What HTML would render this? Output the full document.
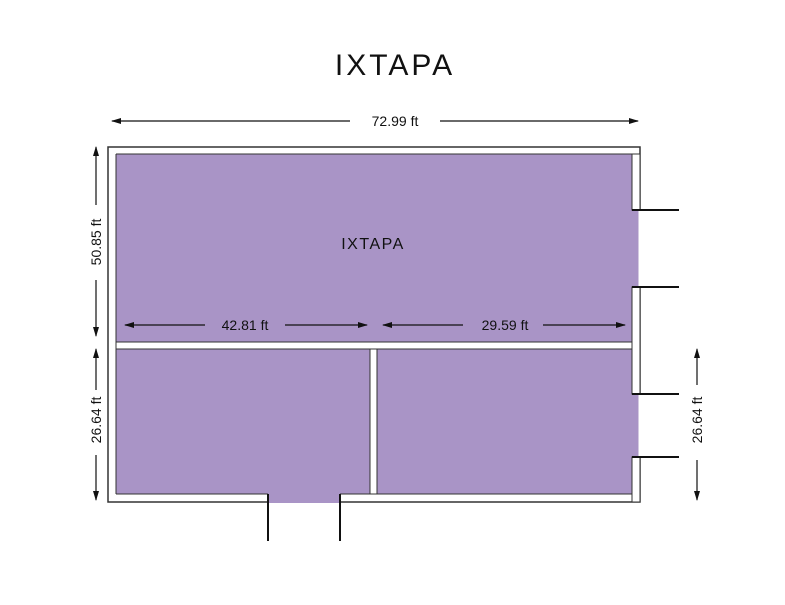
<!DOCTYPE html>
<html><head><style>body{margin:0;background:#fff}svg{display:block}</style></head><body>
<svg width="785" height="605" viewBox="0 0 785 605" xmlns="http://www.w3.org/2000/svg" font-family="Liberation Sans, sans-serif">
<defs><marker id="a" markerWidth="10" markerHeight="8" refX="9" refY="4" orient="auto" markerUnits="userSpaceOnUse"><path d="M0,1 L10,4 L0,7 z" fill="#111"/></marker></defs>
<text x="395" y="75" font-size="30" text-anchor="middle" letter-spacing="3" fill="#111">IXTAPA</text>
<!-- walls outer -->
<rect x="108" y="147" width="532" height="355" fill="#fff" stroke="#333" stroke-width="1.5"/>
<rect x="116" y="154" width="524" height="340" fill="#a994c6"/>
<rect x="632" y="154" width="8" height="56" fill="#fff" stroke="#333" stroke-width="1"/>
<rect x="632" y="287" width="8" height="107" fill="#fff" stroke="#333" stroke-width="1"/>
<rect x="632" y="457" width="8" height="45" fill="#fff" stroke="#333" stroke-width="1"/>
<rect x="268" y="494" width="72" height="9" fill="#a994c6"/>
<line x1="640" y1="210" x2="640" y2="287" stroke="#fff" stroke-width="3"/>
<line x1="640" y1="394" x2="640" y2="457" stroke="#fff" stroke-width="3"/>
<line x1="116" y1="154" x2="632" y2="154" stroke="#333" stroke-width="1"/>
<line x1="116" y1="154" x2="116" y2="494" stroke="#333" stroke-width="1"/>
<line x1="116" y1="494" x2="268" y2="494" stroke="#333" stroke-width="1"/>
<line x1="340" y1="494" x2="632" y2="494" stroke="#333" stroke-width="1"/>
<!-- interior walls -->
<rect x="116" y="342" width="516" height="7" fill="#fff" stroke="#333" stroke-width="1"/>
<rect x="370" y="349" width="7" height="145" fill="#fff" stroke="#333" stroke-width="1"/>
<!-- doors -->
<g stroke="#111" stroke-width="2">
<line x1="632" y1="210" x2="679" y2="210"/><line x1="632" y1="287" x2="679" y2="287"/>
<line x1="632" y1="394" x2="679" y2="394"/><line x1="632" y1="457" x2="679" y2="457"/>
<line x1="268" y1="494" x2="268" y2="541"/><line x1="340" y1="494" x2="340" y2="541"/>
</g>
<!-- dims -->
<g stroke="#111" stroke-width="1.2" marker-end="url(#a)">
<line x1="350" y1="121" x2="112" y2="121"/><line x1="440" y1="121" x2="638" y2="121"/>
<line x1="96" y1="205" x2="96" y2="147"/><line x1="96" y1="280" x2="96" y2="336"/>
<line x1="96" y1="390" x2="96" y2="349"/><line x1="96" y1="455" x2="96" y2="500"/>
<line x1="697" y1="385" x2="697" y2="349"/><line x1="697" y1="460" x2="697" y2="500"/>
<line x1="205" y1="325" x2="125" y2="325"/><line x1="285" y1="325" x2="367" y2="325"/>
<line x1="463" y1="325" x2="383" y2="325"/><line x1="543" y1="325" x2="625" y2="325"/>
</g>
<g font-size="14" fill="#111" text-anchor="middle">
<text x="395" y="126">72.99 ft</text>
<text x="245" y="330">42.81 ft</text>
<text x="505" y="330">29.59 ft</text>
<text transform="translate(101,242) rotate(-90)">50.85 ft</text>
<text transform="translate(101,420) rotate(-90)">26.64 ft</text>
<text transform="translate(702,420) rotate(-90)">26.64 ft</text>
</g>
<text x="373" y="249" font-size="16" text-anchor="middle" letter-spacing="1.5" fill="#111">IXTAPA</text>
</svg>
</body></html>
